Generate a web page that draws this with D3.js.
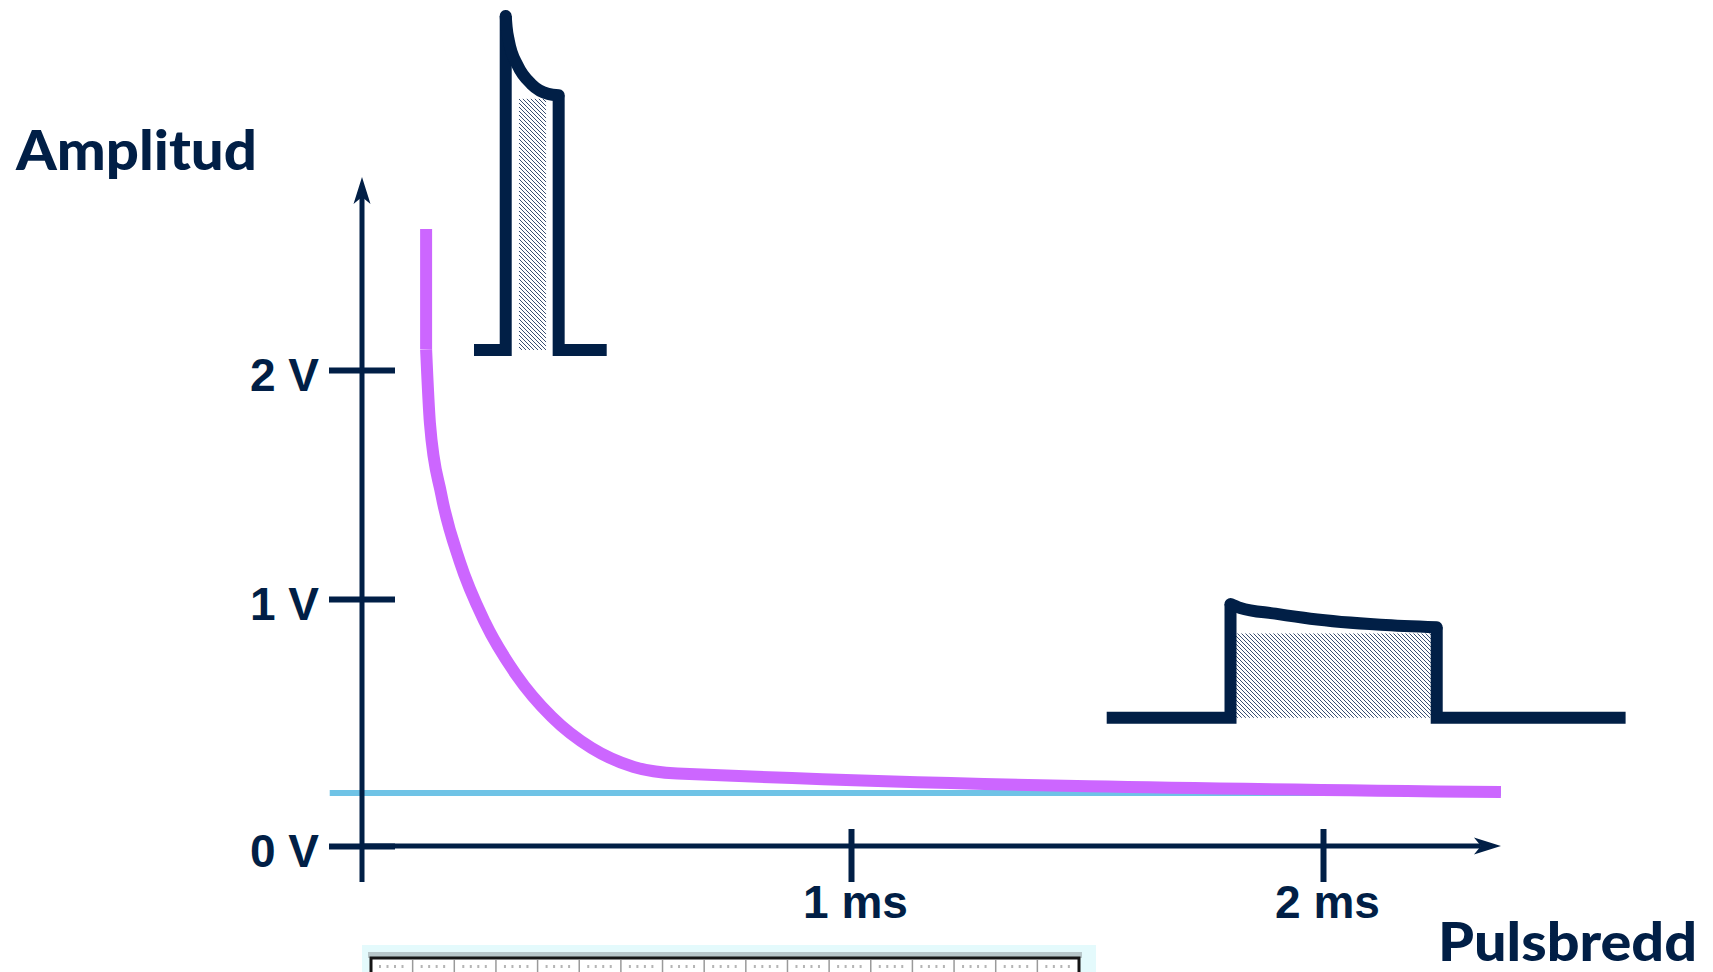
<!DOCTYPE html>
<html>
<head>
<meta charset="utf-8">
<script src="https://cdn.jsdelivr.net/npm/d3@7"></script>
<style>
  body { margin: 0; background: #fff; }
  svg { display: block; }
</style>
</head>
<body>
<div id="chart"></div>
<script>
// strength-duration curve: pulse width (ms) against threshold amplitude (V)
const pulseWidths = [0.1311, 0.1311, 0.1389, 0.1622, 0.1998, 0.2513, 0.3147, 0.3879, 0.4691, 0.5558, 0.645, 2.377];
const amplitudes  = [2.616, 2.089, 1.768, 1.456, 1.164, 0.906, 0.695, 0.523, 0.397, 0.320, 0.2935, 0.2186];

// rheobase level
const rheobase = 0.215;
const rheobaseSpan = [-0.066, 2.377];

// axis ticks
const xTicks = [1, 2];
const xTickLabels = ["1 ms", "2 ms"];
const yTicks = [0, 1, 2];
const yTickLabels = ["0 V", "1 V", "2 V"];

// pulse shapes for the two insets (relative time, relative amplitude)
const narrowT   = [0, 0.239, 0.239, 0.246, 0.263, 0.330, 0.433, 0.559, 0.638, 0.638, 1];
const narrowAmp = [0, 0, 1, 0.966, 0.925, 0.851, 0.796, 0.767, 0.763, 0, 0];
const narrowHatch = { t0: 0.339, t1: 0.543, amp: 0.752 };

const wideT   = [0, 0.2386, 0.2386, 0.2575, 0.325, 0.3926, 0.528, 0.636, 0.636, 1];
const wideAmp = [0, 0, 1, 0.965, 0.915, 0.871, 0.818, 0.796, 0, 0];
const wideHatch = { t0: 0.2486, t1: 0.6246, amp: 0.741 };

const navy = "#011f46";
const pink = "#cc66ff";
const cyan = "#6fc3e6";

const W = 1713, H = 972;

const svg = d3.select("#chart")
  .append("svg")
  .attr("width", W)
  .attr("height", H)
  .style("background", "#fff");

// hatch pattern
const defs = svg.append("defs");
defs.append("pattern")
  .attr("id", "hatch")
  .attr("patternUnits", "userSpaceOnUse")
  .attr("width", 4)
  .attr("height", 4)
  .append("path")
  .attr("d", "M0,0 L4,4 M-1,3 L1,5 M3,-1 L5,1")
  .attr("stroke", "#3a4f72")
  .attr("stroke-width", 1);

// the drawing is not evenly spaced, so piecewise scales
const x = d3.scaleLinear().domain([0, 1, 2]).range([362, 851, 1323]);
const y = d3.scaleLinear().domain([0, 1, 2]).range([846, 599, 370]);

const xEnd = 2.377, yEnd = 2.843, yStart = -0.146;

// rheobase line
svg.append("line")
  .attr("x1", x(rheobaseSpan[0]))
  .attr("x2", x(rheobaseSpan[1]))
  .attr("y1", y(rheobase))
  .attr("y2", y(rheobase))
  .attr("stroke", cyan)
  .attr("stroke-width", 6);

// Y axis
svg.append("line")
  .attr("x1", x(0)).attr("x2", x(0))
  .attr("y1", y(yStart)).attr("y2", y(yEnd) + 20)
  .attr("stroke", navy)
  .attr("stroke-width", 5);
svg.append("path")
  .attr("transform", `translate(${x(0)},${y(yEnd)})`)
  .attr("d", "M0,0 L8.5,27 L0,20 L-8.5,27 Z")
  .attr("fill", navy);

// X axis
svg.append("line")
  .attr("x1", x(0)).attr("x2", x(xEnd) - 20)
  .attr("y1", y(0)).attr("y2", y(0))
  .attr("stroke", navy)
  .attr("stroke-width", 5);
svg.append("path")
  .attr("transform", `translate(${x(xEnd)},${y(0)}) rotate(90)`)
  .attr("d", "M0,0 L8.5,27 L0,20 L-8.5,27 Z")
  .attr("fill", navy);

const yAxis = svg.append("g")
  .attr("transform", `translate(${x(0)},0)`)
  .call(d3.axisLeft(y).tickValues(yTicks).tickFormat((d, i) => yTickLabels[i]).tickSize(33));
yAxis.select(".domain").remove();
yAxis.selectAll(".tick line")
  .attr("x1", 33)
  .attr("stroke", navy)
  .attr("stroke-width", 6);
yAxis.selectAll(".tick text")
  .attr("x", -43)
  .attr("dy", "0.45em")
  .attr("font-family", "'Liberation Sans', Arial, sans-serif")
  .attr("font-weight", "bold")
  .attr("font-size", 46)
  .attr("fill", navy);

const xAxis = svg.append("g")
  .attr("transform", `translate(0,${y(0)})`)
  .call(d3.axisBottom(x).tickValues(xTicks).tickFormat((d, i) => xTickLabels[i]).tickSize(36));
xAxis.select(".domain").remove();
xAxis.selectAll(".tick line")
  .attr("y1", -17)
  .attr("stroke", navy)
  .attr("stroke-width", 6);
xAxis.selectAll(".tick text")
  .attr("y", 72)
  .attr("dy", 0)
  .attr("dx", 4)
  .attr("font-family", "'Liberation Sans', Arial, sans-serif")
  .attr("font-weight", "bold")
  .attr("font-size", 46)
  .attr("fill", navy);

// strength-duration curve: vertical start, then a smooth arc and tail
const curveData = pulseWidths.map((d, i) => [d, amplitudes[i]]);
const sdLine = d3.line().x(d => x(d[0])).y(d => y(d[1]));
svg.append("path")
  .datum(curveData.slice(0, 2))
  .attr("d", sdLine)
  .attr("fill", "none")
  .attr("stroke", pink)
  .attr("stroke-width", 12);
svg.append("path")
  .datum(curveData.slice(1))
  .attr("d", sdLine.curve(d3.curveMonotoneX))
  .attr("fill", "none")
  .attr("stroke", pink)
  .attr("stroke-width", 12);

// pulse insets
function drawPulse(tArr, ampArr, hatch, xRange, yRange) {
  const px = d3.scaleLinear().domain([0, 1]).range(xRange);
  const py = d3.scaleLinear().domain([0, 1]).range(yRange);
  const pts = tArr.map((t, i) => [px(t), py(ampArr[i])]);
  const n = pts.length;
  const g = svg.append("g");

  g.append("rect")
    .attr("x", px(hatch.t0))
    .attr("y", py(hatch.amp))
    .attr("width", px(hatch.t1) - px(hatch.t0))
    .attr("height", py(0) - py(hatch.amp))
    .attr("fill", "url(#hatch)");

  const line = d3.line();
  g.append("path")
    .attr("d", line(pts.slice(0, 3)))
    .attr("fill", "none")
    .attr("stroke", navy)
    .attr("stroke-width", 12)
    .attr("stroke-linejoin", "miter");
  g.append("path")
    .attr("d", line(pts.slice(n - 3)))
    .attr("fill", "none")
    .attr("stroke", navy)
    .attr("stroke-width", 12)
    .attr("stroke-linejoin", "miter");
  g.append("path")
    .attr("d", d3.line().curve(d3.curveMonotoneX)(pts.slice(2, n - 2)))
    .attr("fill", "none")
    .attr("stroke", navy)
    .attr("stroke-width", 12)
    .attr("stroke-linecap", "round");
}

drawPulse(narrowT, narrowAmp, narrowHatch, [474, 606.7], [350, 16]);
drawPulse(wideT, wideAmp, wideHatch, [1106.7, 1625.6], [717.8, 604]);

// axis titles
svg.append("text")
  .attr("x", 16)
  .attr("y", 170)
  .attr("font-family", "Lato, 'Open Sans', sans-serif")
  .attr("font-weight", 900)
  .attr("font-size", 55)
  .attr("textLength", 241)
  .attr("lengthAdjust", "spacingAndGlyphs")
  .attr("fill", navy)
  .text("Amplitud");

svg.append("text")
  .attr("x", 1438)
  .attr("y", 961)
  .attr("font-family", "Lato, 'Open Sans', sans-serif")
  .attr("font-weight", 900)
  .attr("font-size", 54)
  .attr("textLength", 259)
  .attr("lengthAdjust", "spacingAndGlyphs")
  .attr("fill", navy)
  .text("Pulsbredd");

// cut-off ruler strip at the bottom
const strip = svg.append("g");
strip.append("rect")
  .attr("x", 362).attr("y", 945)
  .attr("width", 734).attr("height", 30)
  .attr("fill", "#e4fafc");
strip.append("rect")
  .attr("x", 368).attr("y", 952)
  .attr("width", 714).attr("height", 6)
  .attr("fill", "#9aa3a6")
  .attr("opacity", 0.6);
strip.append("rect")
  .attr("x", 371).attr("y", 958)
  .attr("width", 708).attr("height", 20)
  .attr("fill", "#fff")
  .attr("stroke", "#151515")
  .attr("stroke-width", 3);
const cellW = 708 / 17;
strip.selectAll(".div")
  .data(d3.range(1, 17))
  .enter()
  .append("line")
  .attr("x1", d => 371 + d * cellW)
  .attr("x2", d => 371 + d * cellW)
  .attr("y1", 960).attr("y2", 972)
  .attr("stroke", "#9a9a9a")
  .attr("stroke-width", 1.5);
strip.selectAll(".dot")
  .data(d3.range(17 * 4))
  .enter()
  .append("rect")
  .attr("x", d => 371 + Math.floor(d / 4) * cellW + 8 + (d % 4) * 7.5)
  .attr("y", 965)
  .attr("width", 2)
  .attr("height", 3)
  .attr("fill", "#b5b5b5");
</script>
</body>
</html>
